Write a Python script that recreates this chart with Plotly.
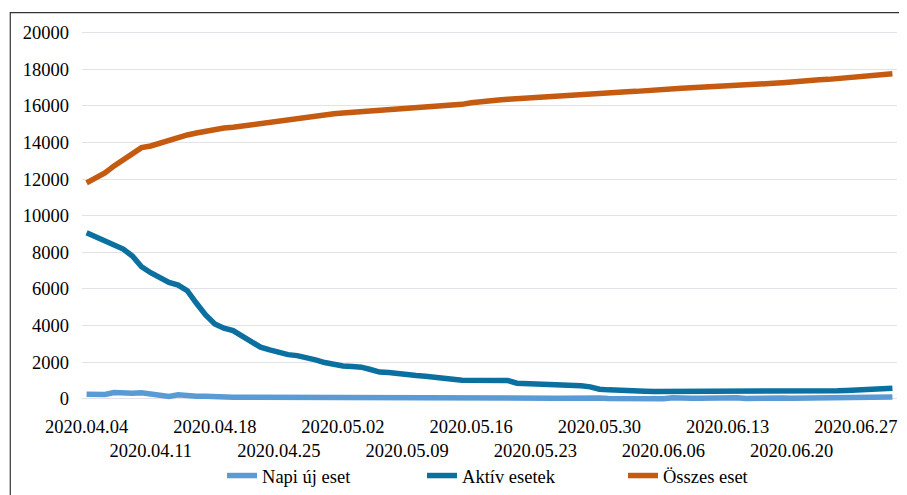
import datetime as dt
import plotly.graph_objects as go

start = dt.date(2020, 4, 4)
n_days = 89
dates = [(start + dt.timedelta(days=i)).isoformat() for i in range(n_days)]

napi_uj = [254, 254, 236, 345, 309, 309, 327, 254, 145, 127, 218, 164, 145, 145, 109, 91, 91, 91, 91, 109,
           109, 109, 91, 109, 91, 73,
           55, 90, 60, 45, 40, 35, 50, 85, 45, 60, 40, 35, 90, 60, 55, 50, 75, 95, 70, 50, 40, 35, 45, 70,
           40, 35, 30, 45, 35, 35, 45,
           25, 20, 12, 35, 40, 55, 5, 65, 10, 30, 30, 45, 35, 25, 55, 15, 35, 20, 40, 50, 35, 40, 30, 45,
           30, 30, 50, 45, 80, 70, 45, 95]

aktiv = [9063, 8845, 8611, 8376, 8175, 7794, 7212, 6885, 6632, 6360, 6213, 5903, 5216, 4578, 4088, 3853,
         3722, 3434, 3107, 2818, 2671, 2524, 2414, 2360, 2280,
         2125, 1980, 1853, 1790, 1770, 1730, 1600, 1460, 1435, 1363, 1308, 1272, 1235, 1199, 1160, 1072,
         1010, 1000, 1054, 1054, 1036, 1000, 854, 836, 836, 830, 800, 770, 760, 709, 654,
         527, 490, 454, 454, 436, 418, 400, 400, 418, 418, 418, 418, 400, 400, 381, 363, 363, 363, 381,
         400, 418, 418, 418, 436, 436, 436, 436, 454, 472, 509, 545, 581, 581]

osszes = [11790, 12026, 12335, 12717, 13062, 13425, 13716, 13806, 13970, 14079, 14260, 14405, 14514, 14623,
          14715, 14787, 14824, 14896, 14969, 15042, 15115, 15187, 15260, 15333, 15406, 15460, 15515, 15569,
          15605, 15642, 15660, 15678, 15696, 15769, 15805, 15842, 15878, 15896, 15932, 15987,
          16005, 16078, 16169, 16241, 16296, 16314, 16350, 16387, 16423, 16477, 16496, 16532, 16568, 16605,
          16623, 16660, 16696, 16714, 16750, 16768, 16786, 16805, 16841, 16877, 16914, 16950, 16986, 17005,
          17023, 17059, 17095, 17114, 17150, 17187, 17205, 17223, 17259, 17314, 17350, 17387, 17423, 17441,
          17478, 17514, 17550, 17586, 17641, 17696, 17750]

tick_dates = [(start + dt.timedelta(days=7 * i)) for i in range(13)]
tick_vals = [d.isoformat() for d in tick_dates]
tick_text = [("" if i % 2 == 0 else "<br>") + d.strftime("%Y.%m.%d") for i, d in enumerate(tick_dates)]

y_ticks = list(range(0, 20001, 2000))

FONT = "Liberation Serif, Times New Roman, Times, serif"
LEG_FONT = dict(family=FONT, size=18.5, color="#000000")

fig = go.Figure()
fig.add_trace(go.Scatter(x=dates, y=napi_uj, mode="lines", name="Napi új eset", legend="legend",
                         line=dict(color="#5B9BD5", width=5.5)))
fig.add_trace(go.Scatter(x=dates, y=aktiv, mode="lines", name="Aktív esetek", legend="legend2",
                         line=dict(color="#0B70A0", width=5.5)))
fig.add_trace(go.Scatter(x=dates, y=osszes, mode="lines", name="Összes eset", legend="legend3",
                         line=dict(color="#C55A11", width=5.5)))

leg_common = dict(orientation="h", xanchor="left", yref="container", y=0.039, yanchor="middle",
                  font=LEG_FONT, bgcolor="rgba(0,0,0,0)")

fig.update_layout(
    width=891, height=487,
    margin=dict(l=74, r=2, t=19, b=87),
    paper_bgcolor="white", plot_bgcolor="white",
    font=dict(family=FONT, size=18.5, color="#000000"),
    showlegend=True,
    legend=dict(x=0.1718, **leg_common),
    legend2=dict(x=0.4172, **leg_common),
    legend3=dict(x=0.6638, **leg_common),
    xaxis=dict(type="date", automargin=False,
               range=["2020-04-03 12:00", "2020-07-01 12:00"],
               tickmode="array", tickvals=tick_vals, ticktext=tick_text, tickangle=0,
               ticklabelstandoff=5,
               showgrid=False, zeroline=False, showline=False, ticks="",
               tickfont=dict(family=FONT, size=18.5, color="#000000")),
    yaxis=dict(range=[-500, 20300], tickmode="array", tickvals=y_ticks, automargin=False,
               ticktext=[str(v) for v in y_ticks], ticklabelstandoff=12,
               showgrid=True, gridcolor="#E3E2EA", gridwidth=1.3,
               zeroline=False, showline=False, ticks="",
               tickfont=dict(family=FONT, size=18.5, color="#000000")),
    shapes=[dict(type="rect", xref="paper", yref="paper",
                 x0=-0.088, x1=1.05, y0=-0.3, y1=1.0375,
                 line=dict(color="#333333", width=1.2), fillcolor="rgba(0,0,0,0)", layer="below")],
)

fig.write_html("out.html")
